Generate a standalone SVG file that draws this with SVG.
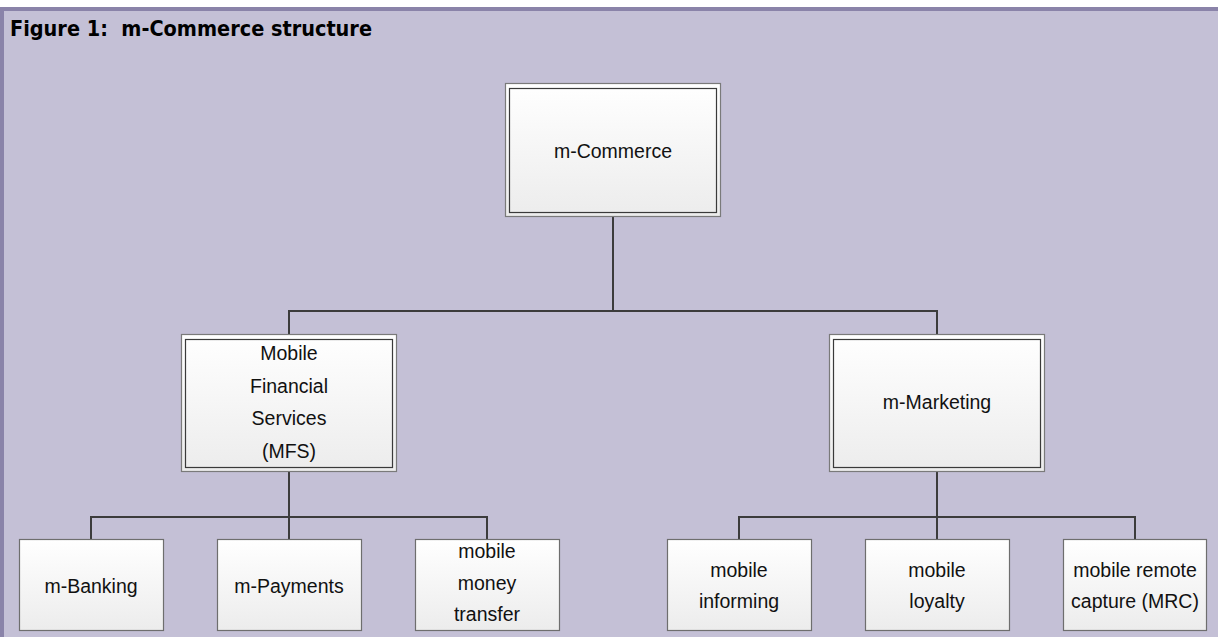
<svg xmlns="http://www.w3.org/2000/svg" width="1218" height="637" viewBox="0 0 1218 637">
  <defs>
    <linearGradient id="boxFill" x1="0" y1="0" x2="0" y2="1">
      <stop offset="0" stop-color="#ffffff"/>
      <stop offset="1" stop-color="#ececec"/>
    </linearGradient>
    <style>
      .panel { fill: #c4c0d6; }
      .frame { fill: #8a83a9; }
      .title { font-family: "DejaVu Sans Condensed", "DejaVu Sans", "Liberation Sans", sans-serif; font-stretch: condensed; font-weight: bold; font-size: 22px; fill: #000; white-space: pre; }
      .outer { fill: url(#boxFill); stroke: #7a7a7a; stroke-width: 1.2; }
      .inner { fill: none; stroke: #3a3a3a; stroke-width: 1.2; }
      .leaf { fill: url(#boxFill); stroke: #6e6e6e; stroke-width: 1.2; }
      .label { font-family: "Liberation Sans", Arial, sans-serif; font-size: 19.5px; fill: #111; text-anchor: middle; }
      .wire { fill: none; stroke: #3c3c3c; stroke-width: 2; }
    </style>
  </defs>

  <!-- page background and framed panel -->
  <rect x="0" y="0" width="1218" height="637" fill="#ffffff"/>
  <rect class="frame" x="0" y="7" width="1218" height="630"/>
  <rect class="panel" x="4" y="11" width="1214" height="626"/>

  <text class="title" x="10" y="35.5" textLength="362" lengthAdjust="spacingAndGlyphs" xml:space="preserve">Figure 1:  m-Commerce structure</text>

  <!-- connectors -->
  <g id="connectors">
    <path class="wire" d="M613 217 V311 M289 334 V311 H937 V334"/>
    <path class="wire" d="M289 471 V517 M91 539 V517 H487 V539 M289 517 V539"/>
    <path class="wire" d="M937 471 V517 M739 539 V517 H1135 V539 M937 517 V539"/>
  </g>

  <!-- root -->
  <g id="node-mcommerce">
    <rect class="outer" x="505.5" y="83.5" width="215" height="133"/>
    <rect class="inner" x="509.5" y="88.5" width="207" height="124"/>
    <text class="label" x="613" y="158">m-Commerce</text>
  </g>

  <!-- second level -->
  <g id="node-mfs">
    <rect class="outer" x="181.5" y="334.5" width="215" height="137"/>
    <rect class="inner" x="185.5" y="339.5" width="207" height="128"/>
    <text class="label" x="289" y="360">Mobile</text>
    <text class="label" x="289" y="393">Financial</text>
    <text class="label" x="289" y="425">Services</text>
    <text class="label" x="289" y="458">(MFS)</text>
  </g>

  <g id="node-mmarketing">
    <rect class="outer" x="829.5" y="334.5" width="215" height="137"/>
    <rect class="inner" x="833.5" y="339.5" width="207" height="128"/>
    <text class="label" x="937" y="409">m-Marketing</text>
  </g>

  <!-- leaves under MFS -->
  <g id="node-mbanking">
    <rect class="leaf" x="19.5" y="539.5" width="144" height="91"/>
    <text class="label" x="91" y="593">m-Banking</text>
  </g>
  <g id="node-mpayments">
    <rect class="leaf" x="217.5" y="539.5" width="144" height="91"/>
    <text class="label" x="289" y="593">m-Payments</text>
  </g>
  <g id="node-money-transfer">
    <rect class="leaf" x="415.5" y="539.5" width="144" height="91"/>
    <text class="label" x="487" y="558">mobile</text>
    <text class="label" x="487" y="590">money</text>
    <text class="label" x="487" y="621">transfer</text>
  </g>

  <!-- leaves under m-Marketing -->
  <g id="node-informing">
    <rect class="leaf" x="667.5" y="539.5" width="144" height="91"/>
    <text class="label" x="739" y="577">mobile</text>
    <text class="label" x="739" y="608">informing</text>
  </g>
  <g id="node-loyalty">
    <rect class="leaf" x="865.5" y="539.5" width="144" height="91"/>
    <text class="label" x="937" y="577">mobile</text>
    <text class="label" x="937" y="608">loyalty</text>
  </g>
  <g id="node-mrc">
    <rect class="leaf" x="1063.5" y="539.5" width="143" height="91"/>
    <text class="label" x="1135" y="577">mobile remote</text>
    <text class="label" x="1135" y="608">capture (MRC)</text>
  </g>
</svg>
